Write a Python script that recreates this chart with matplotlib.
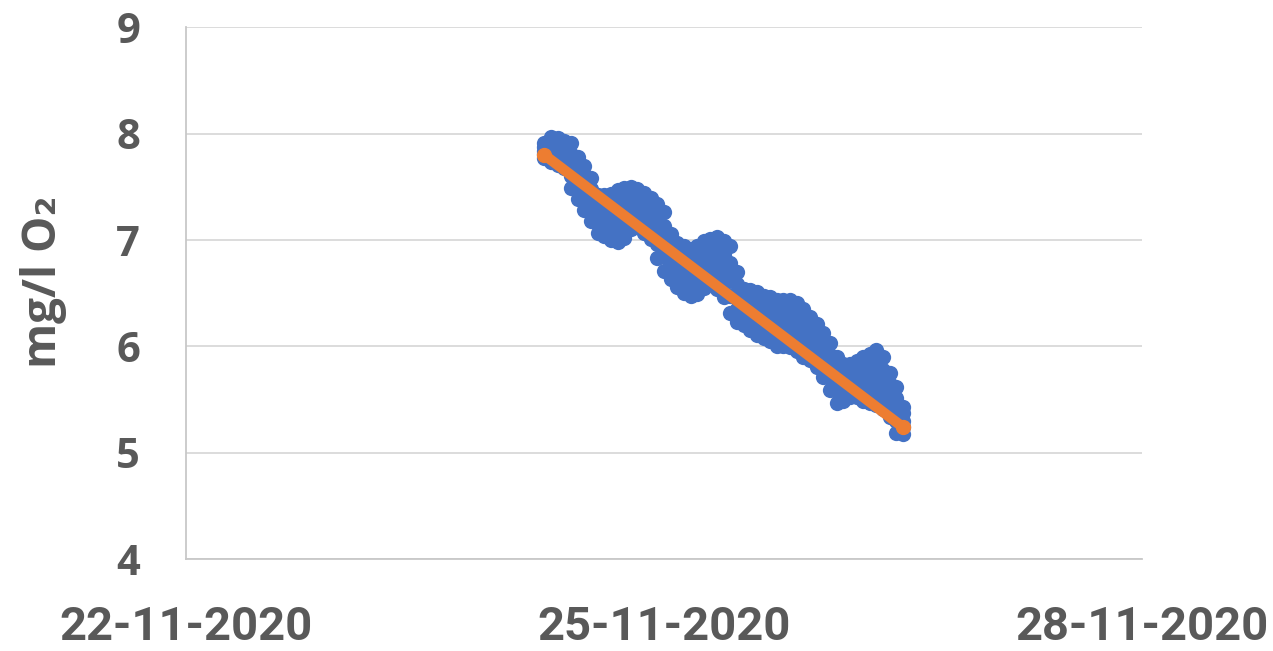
import datetime as dt
import matplotlib
matplotlib.use("Agg")
import matplotlib.pyplot as plt
import matplotlib.dates as mdates

# hourly O2 readings 24-11-2020 06:00 .. 26-11-2020 12:00
# (max / upper quartile / mean / lower quartile / min per hour)
start = dt.datetime(2020, 11, 24, 6, 0)
o2_max = [7.91, 7.97, 7.96, 7.93, 7.91, 7.78, 7.70, 7.58, 7.42, 7.42, 7.43, 7.47, 7.49, 7.50,
          7.48, 7.44, 7.40, 7.34, 7.26, 7.06, 6.97, 6.94, 6.92, 6.94, 6.99, 7.01, 7.03, 6.99,
          6.94, 6.70, 6.54, 6.53, 6.51, 6.47, 6.46, 6.44, 6.44, 6.44, 6.41, 6.35, 6.28, 6.21,
          6.13, 6.03, 5.90, 5.83, 5.83, 5.86, 5.90, 5.93, 5.97, 5.90, 5.75, 5.62, 5.43]
o2_q_hi = [7.88, 7.91, 7.90, 7.87, 7.81, 7.68, 7.60, 7.48, 7.34, 7.33, 7.33, 7.35, 7.38, 7.40,
           7.39, 7.35, 7.30, 7.22, 7.13, 6.96, 6.87, 6.83, 6.81, 6.83, 6.88, 6.91, 6.91, 6.86,
           6.78, 6.59, 6.46, 6.44, 6.41, 6.38, 6.36, 6.33, 6.33, 6.33, 6.30, 6.24, 6.18, 6.11,
           6.03, 5.92, 5.79, 5.75, 5.76, 5.78, 5.80, 5.82, 5.84, 5.78, 5.65, 5.51, 5.37]
o2_mean = [7.84, 7.85, 7.83, 7.80, 7.70, 7.58, 7.49, 7.38, 7.25, 7.23, 7.22, 7.23, 7.26, 7.30,
           7.30, 7.26, 7.20, 7.09, 6.99, 6.85, 6.77, 6.72, 6.70, 6.71, 6.77, 6.80, 6.78, 6.72,
           6.62, 6.47, 6.37, 6.34, 6.31, 6.28, 6.25, 6.22, 6.22, 6.22, 6.18, 6.13, 6.07, 6.01,
           5.92, 5.81, 5.68, 5.66, 5.68, 5.69, 5.69, 5.70, 5.71, 5.66, 5.54, 5.40, 5.30]
o2_q_lo = [7.81, 7.79, 7.77, 7.74, 7.60, 7.49, 7.39, 7.28, 7.16, 7.14, 7.11, 7.11, 7.14, 7.20,
           7.21, 7.17, 7.11, 6.96, 6.85, 6.74, 6.67, 6.61, 6.59, 6.60, 6.66, 6.70, 6.66, 6.59,
           6.47, 6.35, 6.29, 6.25, 6.21, 6.18, 6.15, 6.11, 6.11, 6.11, 6.07, 6.02, 5.97, 5.91,
           5.82, 5.70, 5.58, 5.58, 5.60, 5.61, 5.59, 5.59, 5.58, 5.54, 5.44, 5.30, 5.24]
o2_min = [7.77, 7.73, 7.71, 7.68, 7.49, 7.39, 7.28, 7.18, 7.07, 7.04, 7.00, 6.98, 7.02, 7.10,
          7.12, 7.07, 7.01, 6.83, 6.71, 6.63, 6.56, 6.50, 6.47, 6.49, 6.55, 6.60, 6.54, 6.46,
          6.31, 6.23, 6.20, 6.15, 6.11, 6.08, 6.05, 6.00, 6.00, 5.99, 5.96, 5.90, 5.87, 5.81,
          5.71, 5.59, 5.47, 5.49, 5.52, 5.52, 5.49, 5.47, 5.45, 5.41, 5.34, 5.19, 5.18]
times = [start + dt.timedelta(hours=h) for h in range(len(o2_mean))]

# linear trend end points
trend_x = [times[0], times[-1]]
trend_y = [7.80, 5.24]

x_ticks = [dt.datetime(2020, 11, 22), dt.datetime(2020, 11, 25), dt.datetime(2020, 11, 28)]
y_ticks = [4, 5, 6, 7, 8, 9]

blue = "#4472C4"
orange = "#ED7D31"
txt = "#595959"

fig = plt.figure(figsize=(12.73, 6.51), dpi=100)
ax = fig.add_axes([0.1461, 0.1413, 0.7510, 0.8165])

for vals in (o2_max, o2_q_hi, o2_mean, o2_q_lo, o2_min):
    ax.plot(times, vals, linestyle="none", marker="o", ms=11, color=blue, mec=blue,
            mew=0, zorder=3)
ax.plot(trend_x, trend_y, color=orange, lw=7.5, solid_capstyle="round",
        marker="o", ms=10, mec=orange, zorder=4)

ax.set_xlim(x_ticks[0], x_ticks[-1])
ax.set_ylim(4, 9)
ax.set_xticks(x_ticks)
ax.set_yticks(y_ticks)
ax.xaxis.set_major_formatter(mdates.DateFormatter("%d-%m-%Y"))
ax.grid(axis="y", color="#D9D9D9", lw=1.3)
ax.set_axisbelow(True)
for s in ("top", "right"):
    ax.spines[s].set_visible(False)
for s in ("left", "bottom"):
    ax.spines[s].set_color("#C8C8C8")
    ax.spines[s].set_linewidth(1.3)
ax.tick_params(axis="both", length=0)
ax.tick_params(axis="y", pad=33)
ax.tick_params(axis="x", pad=33)

for lab in ax.get_yticklabels():
    lab.set_fontfamily(["Open Sans", "DejaVu Sans"])
    lab.set_fontweight("bold")
    lab.set_fontsize(30)
    lab.set_color(txt)
for lab in ax.get_xticklabels():
    lab.set_fontfamily(["Roboto", "DejaVu Sans"])
    lab.set_fontweight("bold")
    lab.set_fontsize(34)
    lab.set_color(txt)

ax.set_ylabel("mg/l O\u2082", fontsize=33, fontweight="bold", color=txt,
              family=["Open Sans", "DejaVu Sans"])
ax.yaxis.set_label_coords(-0.124, 0.522)

fig.savefig("out.png", dpi=100)
